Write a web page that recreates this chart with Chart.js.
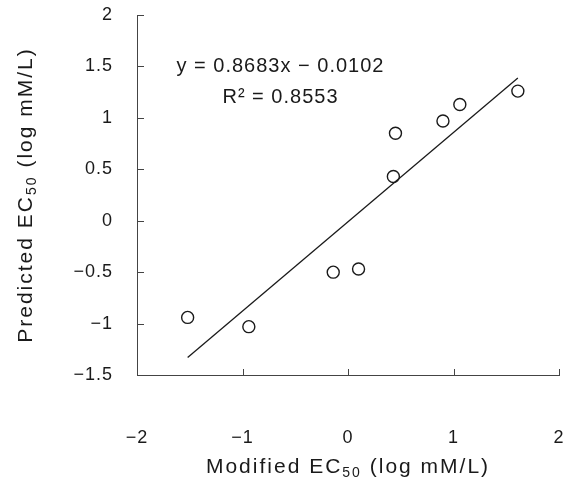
<!DOCTYPE html>
<html>
<head>
<meta charset="utf-8">
<script src="https://cdn.jsdelivr.net/npm/chart.js@4/dist/chart.umd.min.js"></script>
<style>
  html, body { margin: 0; padding: 0; background: #ffffff; }
  #wrap { width: 571px; height: 484px; }
</style>
</head>
<body>
<div id="wrap"><canvas id="c" width="571" height="484"></canvas></div>
<script>
// ---- data ----
const modifiedEC50 = [-1.52, -0.94, -0.14, 0.10, 0.43, 0.45, 0.90, 1.06, 1.61];
const predictedEC50 = [-0.94, -1.03, -0.50, -0.47, 0.43, 0.85, 0.97, 1.13, 1.26];
const slope = 0.8683;
const intercept = -0.0102;
const rSquared = 0.8553;
const xTicks = [-2, -1, 0, 1, 2];
const yTicks = [-1.5, -1, -0.5, 0, 0.5, 1, 1.5, 2];
const xTitleParts = ['Modified EC', '50', ' (log mM/L)'];
const yTitleParts = ['Predicted EC', '50', ' (log mM/L)'];
const eqText = 'y = ' + slope.toFixed(4) + 'x \u2212 ' + Math.abs(intercept).toFixed(4);
const r2Text = 'R\u00B2 = ' + rSquared.toFixed(4);

const points = modifiedEC50.map((x, i) => ({ x: x, y: predictedEC50[i] }));
const xMin = Math.min(...modifiedEC50), xMax = Math.max(...modifiedEC50);
const fitLine = [xMin, xMax].map(x => ({ x: x, y: slope * x + intercept }));

const FONT = '"Liberation Sans", Arial, sans-serif';
const INK = '#1a1a1a';
const fmt = v => String(v).replace('-', '\u2212');

function drawSubTitle(ctx, parts, cx, baseY) {
  const big = '21px ' + FONT, small = '14px ' + FONT;
  ctx.letterSpacing = '2px';
  ctx.font = big; const w0 = ctx.measureText(parts[0]).width;
  ctx.font = small; const w1 = ctx.measureText(parts[1]).width;
  ctx.font = big; const w2 = ctx.measureText(parts[2]).width;
  let x = cx - (w0 + w1 + w2) / 2;
  ctx.textAlign = 'left';
  ctx.textBaseline = 'alphabetic';
  ctx.font = big; ctx.fillText(parts[0], x, baseY); x += w0;
  ctx.font = small; ctx.fillText(parts[1], x, baseY + 4); x += w1;
  ctx.font = big; ctx.fillText(parts[2], x, baseY);
}

const spacing = {
  id: 'spacing',
  beforeDraw(chart) { chart.ctx.letterSpacing = '1px'; }
};

const extras = {
  id: 'extras',
  afterDraw(chart) {
    const ctx = chart.ctx, a = chart.chartArea;
    const xs = chart.scales.x, ys = chart.scales.y;
    ctx.save();
    // inward tick marks
    ctx.strokeStyle = '#444444';
    ctx.lineWidth = 1;
    ctx.beginPath();
    xTicks.forEach(v => { const p = Math.round(xs.getPixelForValue(v)) + 0.5; ctx.moveTo(p, a.bottom); ctx.lineTo(p, a.bottom - 6); });
    yTicks.forEach(v => { const p = Math.round(ys.getPixelForValue(v)) + 0.5; ctx.moveTo(a.left, p); ctx.lineTo(a.left + 7, p); });
    ctx.stroke();
    // regression annotation
    ctx.fillStyle = INK;
    ctx.letterSpacing = '1px';
    ctx.font = '20px ' + FONT;
    ctx.textAlign = 'center';
    ctx.textBaseline = 'middle';
    const cx = xs.getPixelForValue(-0.64);
    ctx.fillText(eqText, cx, ys.getPixelForValue(1.5));
    ctx.fillText(r2Text, cx, ys.getPixelForValue(1.20));
    // axis titles
    drawSubTitle(ctx, xTitleParts, (a.left + a.right) / 2, 473);
    ctx.translate(32, (a.top + a.bottom) / 2);
    ctx.rotate(-Math.PI / 2);
    drawSubTitle(ctx, yTitleParts, 0, 0);
    ctx.restore();
  }
};

new Chart(document.getElementById('c'), {
  type: 'scatter',
  data: {
    datasets: [
      {
        label: 'fit',
        type: 'line',
        data: fitLine,
        borderColor: INK,
        borderWidth: 1.3,
        pointRadius: 0,
        fill: false,
        tension: 0
      },
      {
        label: 'data',
        data: points,
        pointStyle: 'circle',
        pointRadius: 6,
        pointBorderWidth: 1.4,
        pointBorderColor: INK,
        pointBackgroundColor: '#ffffff'
      }
    ]
  },
  options: {
    responsive: false,
    animation: false,
    layout: { padding: { top: 15, right: 12, left: 0, bottom: 0 } },
    plugins: { legend: { display: false }, tooltip: { enabled: false } },
    scales: {
      x: {
        type: 'linear', min: -2, max: 2,
        afterBuildTicks: s => { s.ticks = xTicks.map(v => ({ value: v })); },
        afterFit: s => { s.height = 109; s.paddingLeft = 0; s.paddingRight = 0; s.paddingTop = 0; s.paddingBottom = 0; },
        grid: { drawOnChartArea: false, drawTicks: false },
        border: { display: true, color: '#444444', width: 1 },
        ticks: { padding: 52, color: INK, font: { family: FONT, size: 18 }, callback: v => fmt(v), maxRotation: 0 },
        title: { display: false }
      },
      y: {
        type: 'linear', min: -1.5, max: 2,
        afterBuildTicks: s => { s.ticks = yTicks.map(v => ({ value: v })); },
        afterFit: s => { s.width = 137; s.paddingLeft = 0; s.paddingRight = 0; s.paddingTop = 0; s.paddingBottom = 0; },
        grid: { drawOnChartArea: false, drawTicks: false },
        border: { display: true, color: '#444444', width: 1 },
        ticks: { padding: 24, color: INK, font: { family: FONT, size: 18 }, callback: v => fmt(v) },
        title: { display: false }
      }
    }
  },
  plugins: [spacing, extras]
});
</script>
</body>
</html>
